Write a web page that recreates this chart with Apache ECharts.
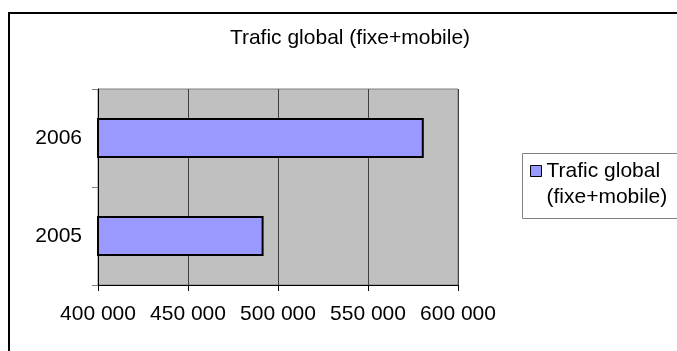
<!DOCTYPE html>
<html>
<head>
<meta charset="utf-8">
<script src="https://cdn.jsdelivr.net/npm/echarts@6/dist/echarts.min.js"></script>
<style>
html,body{margin:0;padding:0;background:#fff;}
#c{width:677px;height:351px;}
</style>
</head>
<body>
<div id="c"></div>
<script>
const titleText = 'Trafic global (fixe+mobile)';
const seriesName = 'Trafic global\n(fixe+mobile)';
const categories = ['2005', '2006'];
const values = [492000, 581000];
const xTicks = [400000, 450000, 500000, 550000, 600000];

const FONT = '"Liberation Sans", Arial, sans-serif';
const chart = echarts.init(document.getElementById('c'), null, {renderer: 'canvas'});

function fmt(v) {
  return String(v).replace(/\B(?=(\d{3})+(?!\d))/g, ' ');
}

chart.setOption({
  animation: false,
  backgroundColor: '#fff',
  title: {
    text: titleText,
    left: 350,
    textAlign: 'center',
    top: 28,
    padding: 0,
    textStyle: {fontFamily: FONT, fontSize: 21, fontWeight: 'normal', color: '#000'}
  },
  graphic: [
    {type: 'rect', shape: {x: 9, y: 13, width: 720, height: 400},
     style: {fill: 'none', stroke: '#000', lineWidth: 2}, z: 10},
    {type: 'rect', shape: {x: 522.5, y: 153.5, width: 200, height: 65},
     style: {fill: '#fff', stroke: '#808080', lineWidth: 1}, z: -1}
  ],
  legend: {
    left: 530,
    top: 132,
    padding: 0,
    icon: 'rect',
    itemWidth: 11,
    itemHeight: 11,
    itemStyle: {borderColor: '#000', borderWidth: 1},
    formatter: function (name) { return '\n' + name; },
    textStyle: {fontFamily: FONT, fontSize: 21, color: '#000', lineHeight: 26},
    data: [seriesName]
  },
  grid: {
    left: 98, top: 89, width: 360, height: 196,
    show: true, backgroundColor: '#c0c0c0', borderColor: '#808080', borderWidth: 1
  },
  xAxis: {
    type: 'value',
    min: xTicks[0],
    max: xTicks[xTicks.length - 1],
    interval: xTicks[1] - xTicks[0],
    axisLine: {show: true, lineStyle: {color: '#000', width: 1}},
    axisTick: {show: true, length: 6, lineStyle: {color: '#000'}},
    splitLine: {show: true, lineStyle: {color: '#404040', width: 1}},
    axisLabel: {fontFamily: FONT, fontSize: 21, color: '#000', margin: 19, formatter: fmt}
  },
  yAxis: {
    type: 'category',
    data: categories,
    axisLine: {show: true, lineStyle: {color: '#000', width: 1}},
    axisTick: {show: true, length: 6, lineStyle: {color: '#808080'}},
    axisLabel: {fontFamily: FONT, fontSize: 21, color: '#000', margin: 16}
  },
  series: [{
    name: seriesName,
    type: 'bar',
    data: values,
    barWidth: '41%',
    itemStyle: {color: '#9999ff', borderColor: '#000', borderWidth: 2}
  }]
});
</script>
</body>
</html>
